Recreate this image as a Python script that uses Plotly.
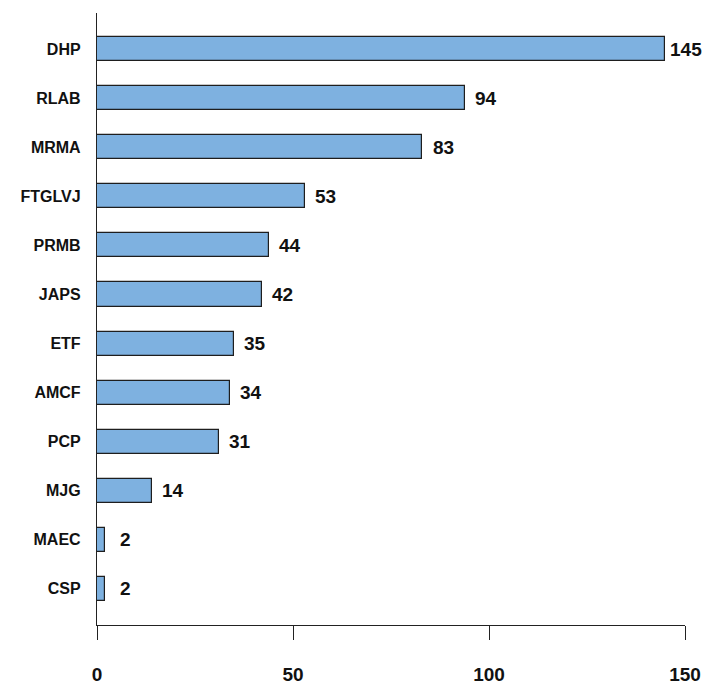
import plotly.graph_objects as go

categories = ["DHP", "RLAB", "MRMA", "FTGLVJ", "PRMB", "JAPS", "ETF", "AMCF", "PCP", "MJG", "MAEC", "CSP"]
values = [145, 94, 83, 53, 44, 42, 35, 34, 31, 14, 2, 2]
x_ticks = [0, 50, 100, 150]

FONT = "Liberation Sans, Arial, sans-serif"

fig = go.Figure()
fig.add_trace(go.Bar(
    x=values, y=categories, orientation="h", width=0.49,
    marker=dict(color="#7eb1e0", line=dict(color="#1e1e1e", width=1.2)),
    hoverinfo="x+y",
))

for c, v in zip(categories, values):
    fig.add_annotation(x=v, y=c, text=str(v), showarrow=False, xanchor="center",
                       xshift=21, yshift=0,
                       font=dict(family=FONT, size=19, color="#111111", weight="bold"))

fig.update_layout(
    width=706, height=686,
    margin=dict(l=97, r=21, t=13, b=61, autoexpand=False),
    paper_bgcolor="white", plot_bgcolor="white",
    showlegend=False,
    font=dict(family=FONT, color="#111111"),
    bargap=0,
)
fig.update_xaxes(
    range=[0, 150], tickvals=x_ticks, ticktext=[str(t) for t in x_ticks],
    showgrid=False, zeroline=False, automargin=False,
    showline=True, linecolor="#222222", linewidth=1.3,
    ticks="outside", ticklen=14, tickwidth=1.3, tickcolor="#222222",
    tickfont=dict(family=FONT, size=19, color="#111111", weight="bold"),
    ticklabelstandoff=18,
)
fig.update_yaxes(
    categoryorder="array", categoryarray=categories,
    range=[len(categories) - 1 + 0.74, -0.74],
    showgrid=False, zeroline=False, automargin=False,
    showline=True, linecolor="#222222", linewidth=1.3,
    ticks="", ticklabelstandoff=12,
    tickfont=dict(family=FONT, size=16, color="#111111", weight="bold"),
)

fig.write_html("out.html", config={"displayModeBar": False},
               post_script="document.body.style.margin='0';document.body.style.overflow='hidden';")
